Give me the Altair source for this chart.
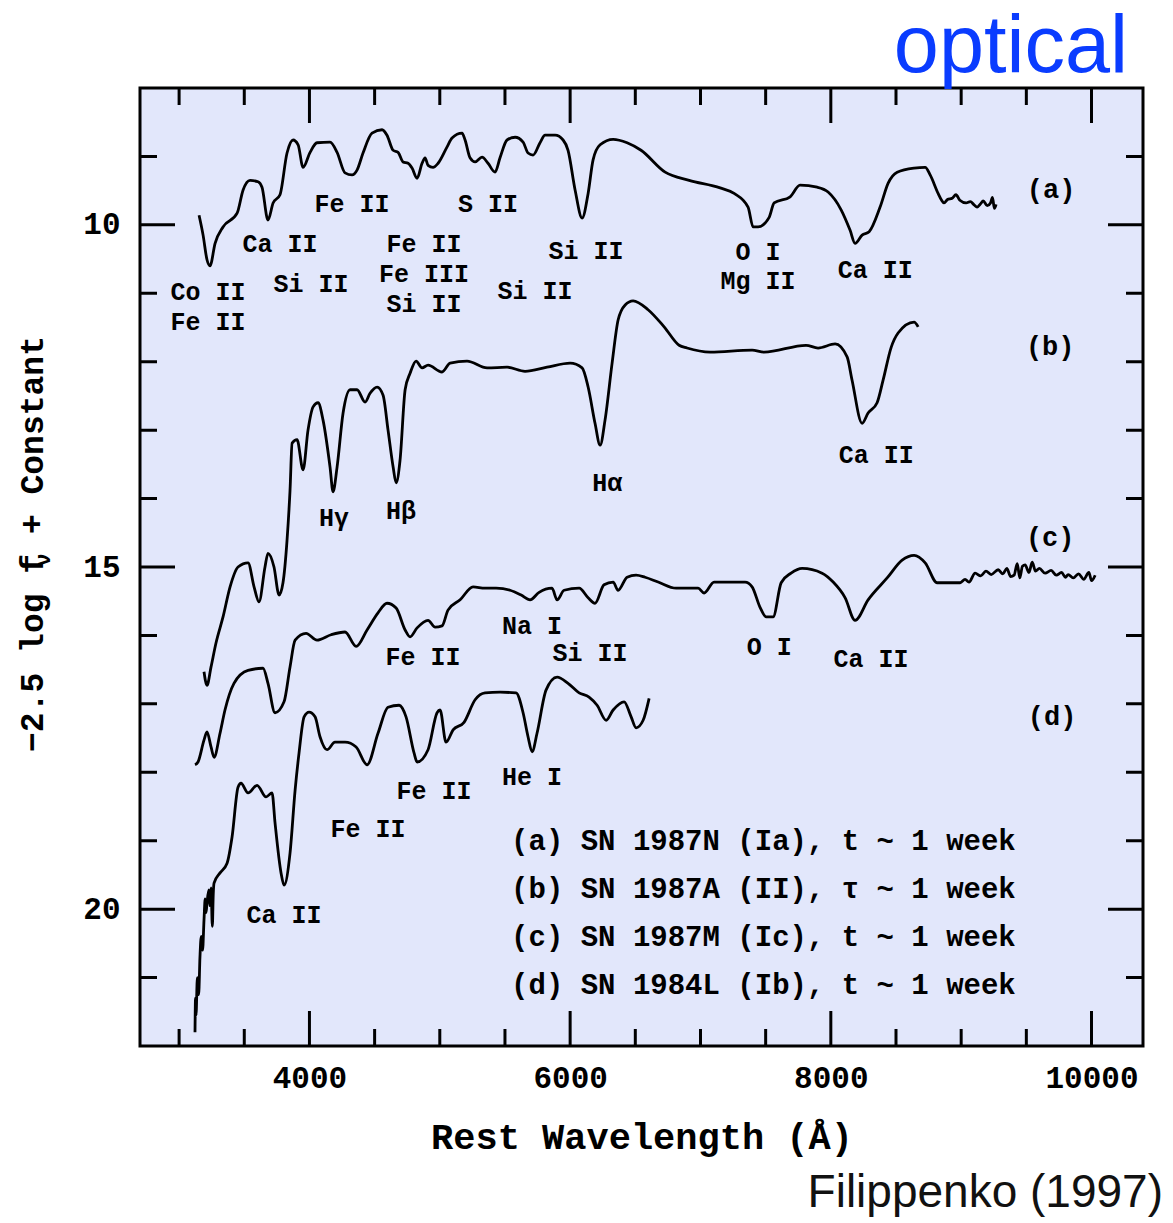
import altair as alt
import pandas as pd

MONO = "Liberation Mono"
SANS = "Liberation Sans"

# ---------------- spectra (rest wavelength in Angstrom, -2.5 log f_nu + const) -------------
wl_a = [3153,3184,3214,3237,3276,3337,3445,3491,3544,3606,3636,3682,3721,3774,3828,3874,3913,3951,
        4005,4058,4158,4212,4273,4327,4365,4411,4480,4557,4595,4642,4680,4718,4757,4787,4826,4864,
        4887,4910,4948,4987,5056,5094,5171,5194,5232,5271,5324,5370,5424,5462,5516,5578,5639,5677,
        5716,5769,5808,5885,5946,5984,6038,6092,6138,6176,6230,6330,6437,6544,6729,6913,7151,7258,
        7365,7404,7442,7527,7565,7688,7764,7895,7979,8079,8148,8186,8240,8294,8378,8440,8509,8639,
        8724,8762,8823,8850,8869,8895,8931,8960,8990,9038,9070,9100,9122,9150,9169,9200,9225,9240,
        9255,9268]
mag_a = [9.86,10.15,10.51,10.60,10.27,10.03,9.83,9.49,9.35,9.37,9.45,9.93,9.68,9.56,8.95,8.76,8.83,9.16,
         8.94,8.80,8.79,8.94,9.24,9.27,9.20,8.95,8.66,8.61,8.69,8.91,8.94,9.08,9.10,9.17,9.32,9.10,
         9.02,9.13,9.16,9.10,8.86,8.73,8.66,8.76,9.02,9.08,9.01,9.10,9.23,9.02,8.76,8.72,8.79,8.95,
         8.98,8.80,8.69,8.69,8.76,8.91,9.49,9.90,9.54,9.05,8.83,8.75,8.80,8.91,9.23,9.35,9.46,9.54,
         9.74,10.03,10.03,9.89,9.68,9.59,9.42,9.45,9.52,9.78,10.08,10.27,10.15,10.10,9.74,9.39,9.23,9.17,
         9.16,9.27,9.54,9.64,9.68,9.63,9.61,9.56,9.64,9.68,9.66,9.71,9.74,9.69,9.65,9.72,9.68,9.60,
         9.76,9.70]

wl_b = [3191,3214,3245,3283,3337,3391,3452,3529,3575,3613,3659,3682,3728,3767,3797,3828,3851,3867,
        3905,3951,3989,4028,4066,4104,4158,4181,4212,4258,4312,4365,4427,4465,4519,4565,4603,4642,
        4665,4695,4734,4772,4818,4864,4910,5017,5079,5209,5363,5516,5654,5823,6000,6092,6138,6191,
        6230,6268,6322,6368,6422,6483,6598,6721,6836,6897,7074,7396,7488,7810,7902,8033,8125,8163,
        8240,8286,8355,8401,8463,8516,8639,8670]
mag_b = [16.53,16.73,16.46,16.11,15.73,15.29,15.00,14.94,15.29,15.51,15.00,14.80,15.00,15.41,15.23,14.61,13.88,13.19,
         13.14,13.58,13.00,12.66,12.60,12.85,13.54,13.90,13.54,12.75,12.41,12.41,12.59,12.46,12.37,12.49,13.00,13.54,
         13.77,13.44,12.41,12.17,11.99,12.09,12.05,12.15,12.02,11.99,12.09,12.08,12.14,12.08,12.02,12.09,12.37,12.90,
         13.22,12.85,12.02,11.39,11.17,11.11,11.24,11.49,11.76,11.80,11.86,11.83,11.86,11.76,11.80,11.74,11.93,12.27,
         12.90,12.75,12.60,12.27,11.79,11.58,11.42,11.49]

wl_c = [3122,3145,3191,3214,3245,3268,3314,3352,3421,3529,3644,3682,3736,3805,3851,3890,3974,4058,
        4166,4273,4358,4442,4526,4595,4665,4734,4772,4826,4910,4964,5017,5063,5156,5255,5347,5432,
        5539,5624,5693,5762,5861,5900,5954,6069,6138,6191,6260,6330,6368,6437,6506,6575,6675,6813,
        6982,7028,7104,7342,7396,7457,7504,7557,7619,7695,7780,7933,8018,8110,8186,8286,8432,8547,
        8639,8724,8816,8992,9030,9060,9107,9150,9190,9230,9284,9320,9350,9380,9406,9430,9450,9470,
        9491,9520,9545,9570,9600,9644,9690,9730,9770,9800,9821,9860,9900,9940,9980,10000,10028]
mag_c = [17.89,17.85,17.53,17.41,17.63,17.78,17.43,17.09,16.70,16.51,16.48,16.70,17.13,16.97,16.46,16.07,15.97,16.07,
         15.99,15.95,16.16,15.92,15.67,15.53,15.60,15.92,16.02,15.89,15.78,15.88,15.86,15.63,15.48,15.29,15.31,15.31,
         15.34,15.41,15.48,15.37,15.31,15.48,15.34,15.31,15.45,15.53,15.26,15.22,15.34,15.15,15.12,15.15,15.22,15.31,
         15.31,15.38,15.22,15.22,15.29,15.59,15.73,15.73,15.23,15.09,15.02,15.09,15.22,15.45,15.78,15.48,15.16,14.90,
         14.83,14.94,15.23,15.23,15.18,15.22,15.09,15.13,15.06,15.11,15.04,15.10,15.02,15.14,15.12,14.95,15.16,14.99,
         14.97,15.08,14.93,15.06,15.02,15.09,15.05,15.12,15.08,15.15,15.11,15.16,15.10,15.18,15.08,15.20,15.12]

wl_d = [3122,3126,3130,3140,3150,3160,3170,3180,3191,3200,3207,3214,3228,3236,3245,3255,3262,3268,
        3314,3368,3406,3452,3475,3529,3598,3667,3713,3736,3782,3805,3851,3890,3920,3959,3997,4043,
        4081,4135,4196,4273,4358,4442,4526,4603,4688,4741,4803,4826,4910,4979,5002,5048,5102,5186,
        5271,5347,5462,5585,5639,5677,5708,5746,5815,5900,5984,6069,6145,6207,6276,6330,6414,6468,
        6506,6560,6606]
mag_d = [21.80,21.30,21.55,21.00,21.25,20.70,20.40,20.60,20.16,19.85,20.05,19.91,19.72,19.95,19.69,20.25,19.78,19.62,
         19.47,19.33,18.95,18.22,18.16,18.30,18.19,18.36,18.30,18.74,19.47,19.65,19.18,18.26,17.72,17.19,17.12,17.19,
         17.48,17.67,17.56,17.56,17.63,17.89,17.43,17.05,17.02,17.19,17.72,17.85,17.67,17.13,17.09,17.56,17.38,17.27,
         16.94,16.84,16.83,16.84,17.13,17.48,17.70,17.43,16.80,16.61,16.70,16.84,16.90,17.02,17.24,17.09,16.97,17.19,
         17.35,17.24,16.92]

# ---------------- line identifications ----------------
ann_text = ["Co II", "Fe II", "Ca II", "Si II", "Fe II", "Fe II", "Fe III", "Si II", "S II", "Si II",
            "Si II", "O I", "Mg II", "Ca II",
            "Hγ", "Hβ", "Hα", "Ca II",
            "Fe II", "Na I", "Si II", "O I", "Ca II",
            "Fe II", "He I", "Fe II", "Ca II"]
ann_wl = [3222, 3222, 3774, 4012, 4327, 4879, 4879, 4879, 5370, 5731,
          6122, 7442, 7442, 8340,
          4189, 4703, 6284, 8348,
          4872, 5708, 6153, 7527, 8309,
          4956, 5708, 4450, 3805]
ann_mag = [10.98, 11.42, 10.28, 10.86, 9.70, 10.28, 10.72, 11.16, 9.70, 10.97,
           10.38, 10.40, 10.82, 10.66,
           14.28, 14.18, 13.77, 13.36,
           16.32, 15.86, 16.26, 16.17, 16.35,
           18.27, 18.07, 18.83, 20.09]

panel_text = ["(a)", "(b)", "(c)", "(d)"]
panel_wl = [9690, 9683, 9683, 9698]
panel_mag = [9.49, 11.79, 14.58, 17.19]

legend_text = ["(a) SN 1987N (Ia), t ~ 1 week",
               "(b) SN 1987A (II), τ ~ 1 week",
               "(c) SN 1987M (Ic), t ~ 1 week",
               "(d) SN 1984L (Ib), t ~ 1 week"]
legend_wl = [5547, 5547, 5547, 5547]
legend_mag = [19.00, 19.71, 20.41, 21.11]

# ---------------- tick marks ----------------
x_minor = [3000, 3500, 4500, 5000, 5500, 6500, 7000, 7500, 8500, 9000, 9500]
x_major = [4000, 6000, 8000, 10000]
y_minor = [9, 11, 12, 13, 14, 16, 17, 18, 19, 21]
y_major = [10, 15, 20]
X_DOMAIN = [2700, 10395]
Y_DOMAIN = [8, 22]

# ---------------- build tables ----------------
frames = []
for name, w, m in [("a", wl_a, mag_a), ("b", wl_b, mag_b), ("c", wl_c, mag_c), ("d", wl_d, mag_d)]:
    f = pd.DataFrame({"wl": w, "mag": m})
    f["sn"] = name
    f["idx"] = range(len(f))
    frames.append(f)
spec = pd.concat(frames, ignore_index=True)

ann = pd.DataFrame({"label": ann_text, "wl": ann_wl, "mag": ann_mag})
panels = pd.DataFrame({"label": panel_text, "wl": panel_wl, "mag": panel_mag})
legend = pd.DataFrame({"label": legend_text, "wl": legend_wl, "mag": legend_mag})


def edge_ticks_x(vals):
    return pd.DataFrame({"wl": vals + vals, "mag": [Y_DOMAIN[0]] * len(vals) + [Y_DOMAIN[1]] * len(vals)})


def edge_ticks_y(vals):
    return pd.DataFrame({"mag": vals + vals, "wl": [X_DOMAIN[0]] * len(vals) + [X_DOMAIN[1]] * len(vals)})


xs = alt.Scale(domain=X_DOMAIN, nice=False, zero=False)
ys = alt.Scale(domain=Y_DOMAIN, reverse=True, nice=False, zero=False)

x_axis = alt.Axis(values=x_major, format="d", ticks=False, domain=False, grid=False,
                  labelFont=MONO, labelFontWeight="bold", labelFontSize=31, labelColor="black",
                  labelPadding=17, title="Rest Wavelength (Å)", titleFont=MONO, titleFontSize=37,
                  titleFontWeight="bold", titleColor="black", titlePadding=26)
y_axis = alt.Axis(values=y_major, format="d", ticks=False, domain=False, grid=False,
                  labelFont=MONO, labelFontWeight="bold", labelFontSize=31, labelColor="black",
                  labelPadding=20, title="")


def xy():
    return dict(x=alt.X("wl:Q", scale=xs, axis=x_axis), y=alt.Y("mag:Q", scale=ys, axis=y_axis))


lines = alt.Chart(spec).mark_line(color="black", strokeWidth=2.8, strokeJoin="round",
                                  interpolate="monotone", clip=True).encode(
    detail="sn:N", order="idx:Q", **xy())

tick_style = dict(color="black", thickness=3, clip=True, opacity=1)
tx_minor = alt.Chart(edge_ticks_x(x_minor)).mark_tick(orient="vertical", size=34, **tick_style).encode(**xy())
tx_major = alt.Chart(edge_ticks_x(x_major)).mark_tick(orient="vertical", size=70, **tick_style).encode(**xy())
ty_minor = alt.Chart(edge_ticks_y(y_minor)).mark_tick(orient="horizontal", size=34, **tick_style).encode(**xy())
ty_major = alt.Chart(edge_ticks_y(y_major)).mark_tick(orient="horizontal", size=70, **tick_style).encode(**xy())

ann_layer = alt.Chart(ann).mark_text(font=MONO, fontWeight="bold", fontSize=25, color="black",
                                     align="center", baseline="middle").encode(text="label:N", **xy())
panel_layer = alt.Chart(panels).mark_text(font=MONO, fontWeight="bold", fontSize=27, color="black",
                                          align="center", baseline="middle").encode(text="label:N", **xy())
legend_layer = alt.Chart(legend).mark_text(font=MONO, fontWeight="bold", fontSize=29, color="black",
                                           align="left", baseline="middle").encode(text="label:N", **xy())

# y-axis title built from text so that the nu can be a subscript
ytitle_main = alt.Chart(pd.DataFrame({"t": ["−2.5 log f  + Constant"]})).mark_text(
    font=MONO, fontWeight="bold", fontSize=33, color="black", angle=270, align="center",
    baseline="alphabetic").encode(text="t:N", x=alt.value(-97), y=alt.value(456))
ytitle_nu = alt.Chart(pd.DataFrame({"t": ["ν"]})).mark_text(
    font=MONO, fontWeight="bold", fontSize=22, color="black", angle=270, align="center",
    baseline="alphabetic").encode(text="t:N", x=alt.value(-90), y=alt.value(472))

optical = alt.Chart(pd.DataFrame({"t": ["optical"]})).mark_text(
    font=SANS, fontSize=81, color="#0a3cff", align="right", baseline="alphabetic").encode(
    text="t:N", x=alt.value(988), y=alt.value(-16))
credit = alt.Chart(pd.DataFrame({"t": ["Filippenko (1997)"]})).mark_text(
    font=SANS, fontSize=46, color="#111111", align="right", baseline="alphabetic").encode(
    text="t:N", x=alt.value(1023), y=alt.value(1119))

chart = alt.layer(
    lines, tx_minor, tx_major, ty_minor, ty_major, ann_layer, panel_layer, legend_layer,
    ytitle_main, ytitle_nu, optical, credit,
).properties(
    width=1003, height=958,
    autosize=alt.AutoSizeParams(type="none"),
    padding={"left": 140, "top": 88, "right": 30, "bottom": 177},
    background="white",
).configure_view(fill="#e2e7fb", stroke="black", strokeWidth=3)

chart.save("out.html", embed_options={"renderer": "svg", "actions": False})
